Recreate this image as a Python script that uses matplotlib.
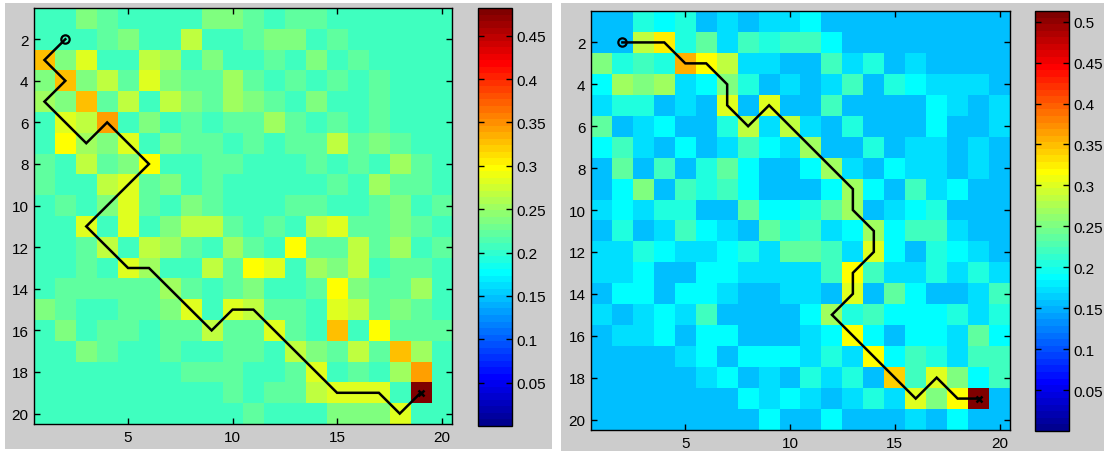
import numpy as np
import matplotlib
matplotlib.use("Agg")
import matplotlib.pyplot as plt
from matplotlib.colors import ListedColormap
from matplotlib.patches import Rectangle

# ---------------- data ----------------
# left panel cost map (rows 1..20, cols 1..20)
left_values = [
    [.207,.207,.237,.222,.207,.207,.207,.207,.237,.237,.222,.207,.222,.222,.207,.207,.207,.207,.207,.207],
    [.207,.207,.207,.222,.237,.207,.207,.267,.207,.207,.222,.237,.237,.207,.222,.207,.207,.207,.207,.207],
    [.325,.237,.283,.207,.207,.267,.252,.207,.237,.207,.207,.222,.207,.237,.207,.222,.207,.207,.207,.207],
    [.237,.325,.237,.267,.222,.283,.237,.222,.222,.252,.222,.207,.222,.207,.222,.207,.222,.207,.207,.207],
    [.252,.237,.325,.222,.267,.207,.267,.237,.222,.252,.237,.222,.207,.237,.207,.207,.222,.207,.207,.207],
    [.207,.283,.267,.343,.207,.237,.207,.222,.207,.222,.222,.252,.222,.207,.222,.207,.222,.207,.207,.207],
    [.207,.298,.252,.237,.283,.207,.237,.222,.222,.207,.222,.207,.222,.222,.267,.222,.237,.222,.207,.207],
    [.222,.207,.267,.222,.237,.298,.207,.207,.222,.222,.207,.207,.207,.222,.207,.222,.207,.252,.222,.207],
    [.222,.207,.207,.267,.283,.222,.237,.207,.222,.207,.207,.207,.207,.207,.222,.207,.252,.222,.222,.207],
    [.207,.222,.207,.237,.283,.222,.207,.237,.222,.207,.207,.207,.222,.222,.207,.207,.222,.237,.207,.222],
    [.207,.207,.283,.207,.283,.207,.237,.267,.267,.222,.207,.222,.207,.267,.283,.222,.222,.237,.222,.207],
    [.207,.207,.222,.267,.207,.267,.252,.222,.207,.252,.222,.207,.298,.222,.222,.267,.222,.252,.207,.222],
    [.207,.207,.222,.207,.283,.252,.207,.207,.267,.222,.298,.283,.207,.252,.237,.267,.207,.222,.222,.207],
    [.207,.222,.222,.222,.222,.222,.252,.222,.207,.222,.237,.207,.207,.222,.298,.237,.222,.222,.252,.207],
    [.237,.222,.207,.207,.222,.222,.237,.283,.207,.283,.267,.222,.222,.207,.283,.267,.222,.237,.222,.207],
    [.207,.237,.207,.222,.222,.207,.222,.222,.267,.222,.222,.283,.222,.207,.325,.207,.298,.222,.222,.222],
    [.207,.207,.237,.222,.207,.207,.222,.207,.207,.222,.222,.207,.267,.237,.222,.267,.222,.325,.252,.207],
    [.207,.207,.207,.207,.207,.207,.207,.222,.222,.222,.207,.207,.222,.283,.207,.222,.207,.252,.343,.207],
    [.207,.207,.207,.207,.207,.207,.207,.207,.207,.222,.207,.222,.222,.267,.283,.283,.283,.207,.482,.207],
    [.207,.207,.207,.207,.207,.207,.207,.207,.207,.207,.222,.207,.207,.207,.237,.237,.237,.283,.207,.207],
]
left_path_x = [2, 1, 2, 1, 3, 4, 6, 3, 5, 6, 9, 10, 11, 15, 17, 18, 19]
left_path_y = [2, 3, 4, 5, 7, 6, 8, 11, 13, 13, 16, 15, 15, 19, 19, 20, 19]
left_clim = (0.0, 0.482)
left_cbar_ticks = [0.05, 0.1, 0.15, 0.2, 0.25, 0.3, 0.35, 0.4, 0.45]
left_cbar_labels = ["0.05", "0.1", "0.15", "0.2", "0.25", "0.3", "0.35", "0.4", "0.45"]

# right panel cost map
right_values = [
    [.156,.156,.204,.188,.204,.156,.172,.156,.172,.172,.188,.156,.156,.156,.156,.156,.156,.156,.156,.156],
    [.156,.156,.284,.325,.204,.236,.172,.220,.204,.220,.220,.188,.156,.156,.156,.156,.156,.156,.156,.156],
    [.252,.204,.220,.204,.357,.316,.284,.172,.172,.156,.156,.220,.172,.204,.156,.172,.156,.156,.156,.156],
    [.188,.268,.252,.268,.172,.188,.252,.204,.156,.172,.156,.172,.220,.156,.204,.188,.172,.172,.172,.156],
    [.172,.204,.204,.156,.172,.156,.300,.156,.300,.156,.156,.220,.156,.156,.156,.156,.188,.172,.156,.172],
    [.236,.156,.172,.188,.156,.156,.204,.284,.172,.284,.172,.156,.204,.156,.156,.156,.188,.156,.156,.172],
    [.188,.220,.172,.156,.188,.156,.172,.220,.188,.172,.268,.156,.156,.204,.156,.172,.172,.156,.172,.156],
    [.156,.236,.156,.220,.156,.204,.236,.188,.156,.156,.188,.268,.172,.156,.188,.172,.172,.156,.172,.156],
    [.156,.188,.252,.156,.220,.204,.220,.188,.156,.156,.156,.188,.268,.188,.156,.220,.172,.188,.156,.156],
    [.172,.188,.172,.204,.204,.156,.156,.236,.188,.188,.204,.236,.268,.156,.172,.188,.204,.156,.156,.156],
    [.156,.204,.156,.172,.220,.188,.172,.156,.236,.204,.220,.172,.188,.268,.188,.220,.220,.172,.156,.156],
    [.172,.172,.204,.188,.172,.172,.188,.204,.172,.236,.236,.220,.172,.300,.188,.156,.204,.188,.172,.156],
    [.172,.172,.188,.156,.156,.188,.188,.172,.172,.172,.172,.220,.316,.220,.172,.172,.204,.172,.204,.172],
    [.156,.188,.188,.156,.188,.188,.172,.156,.156,.172,.172,.156,.300,.156,.236,.188,.156,.156,.172,.220],
    [.172,.156,.172,.188,.172,.220,.156,.156,.156,.156,.188,.268,.204,.220,.188,.188,.188,.204,.172,.204],
    [.156,.172,.172,.188,.156,.188,.188,.156,.156,.156,.172,.188,.316,.188,.156,.188,.188,.172,.236,.188],
    [.156,.156,.156,.156,.172,.188,.156,.188,.188,.188,.172,.204,.172,.316,.188,.220,.204,.172,.220,.220],
    [.156,.156,.156,.156,.156,.172,.188,.156,.172,.156,.204,.172,.204,.156,.340,.220,.300,.252,.188,.220],
    [.156,.156,.156,.156,.156,.156,.156,.188,.172,.188,.172,.156,.172,.204,.172,.300,.252,.316,.513,.156],
    [.156,.156,.156,.156,.156,.156,.156,.156,.188,.156,.156,.188,.156,.156,.156,.172,.156,.188,.156,.156],
]
right_path_x = [2, 4, 5, 6, 7, 7, 8, 9, 13, 13, 14, 14, 13, 13, 12, 16, 17, 18, 19]
right_path_y = [2, 2, 3, 3, 4, 5, 6, 5, 9, 10, 11, 12, 13, 14, 15, 19, 18, 19, 19]
right_clim = (0.0, 0.513)
right_cbar_ticks = [0.05, 0.1, 0.15, 0.2, 0.25, 0.3, 0.35, 0.4, 0.45, 0.5]
right_cbar_labels = ["0.05", "0.1", "0.15", "0.2", "0.25", "0.3", "0.35", "0.4", "0.45", "0.5"]

x_ticks = [5, 10, 15, 20]
y_ticks = [2, 4, 6, 8, 10, 12, 14, 16, 18, 20]

# ---------------- MATLAB jet(64) ----------------
def matlab_jet(m=64):
    n = int(np.ceil(m / 4))
    u = np.concatenate([np.arange(1, n + 1) / n, np.ones(n - 1), np.arange(n, 0, -1) / n])
    g = int(np.ceil(n / 2)) - (1 if m % 4 == 1 else 0) + np.arange(1, len(u) + 1)
    r = g + n
    b = g - n
    J = np.zeros((m, 3))
    rv = r[r <= m]
    J[rv - 1, 0] = u[:len(rv)]
    gv = g[g <= m]
    J[gv - 1, 1] = u[:len(gv)]
    bv = b[b >= 1]
    J[bv - 1, 2] = u[len(u) - len(bv):]
    return ListedColormap(J)

cmap = matlab_jet(64)

plt.rcParams['font.family'] = ['Liberation Sans', 'DejaVu Sans']
plt.rcParams['font.size'] = 11

W, H = 1104, 452
fig = plt.figure(figsize=(W / 100, H / 100), dpi=100, facecolor='white')

def box(x0, y0, x1, y1):
    return [x0 / W, 1 - y1 / H, (x1 - x0) / W, (y1 - y0) / H]

gray = '#cccccc'
fig.patches.append(Rectangle((5 / W, 1 - 450 / H), 547 / W, 446 / H, transform=fig.transFigure,
                             facecolor=gray, edgecolor='none', zorder=-10))
fig.patches.append(Rectangle((561 / W, 0), 543 / W, 448 / H, transform=fig.transFigure,
                             facecolor=gray, edgecolor='none', zorder=-10))

def panel(ax_box, cax_box, values, px, py, clim, cticks, clabels):
    ax = fig.add_axes(box(*ax_box))
    im = ax.imshow(np.array(values), cmap=cmap, vmin=clim[0], vmax=clim[1],
                   extent=(0.5, 20.5, 20.5, 0.5), aspect='auto', interpolation='nearest')
    ax.plot(px, py, color='black', lw=1.8, solid_joinstyle='miter')
    ax.plot(px[0], py[0], marker='o', ms=6, mfc='none', mec='black', mew=1.6)
    ax.plot(px[-1], py[-1], marker='x', ms=5, mec='black', mew=1.8)
    ax.set_xlim(0.5, 20.5)
    ax.set_ylim(20.5, 0.5)
    ax.set_xticks(x_ticks)
    ax.set_yticks(y_ticks)
    ax.tick_params(direction='in', length=4, width=1, top=True, right=True,
                   labelsize=11, colors='black', pad=4)
    for s in ax.spines.values():
        s.set_linewidth(1)
    cax = fig.add_axes(box(*cax_box))
    cb = fig.colorbar(im, cax=cax)
    cb.set_ticks(cticks)
    cb.set_ticklabels(clabels)
    cax.tick_params(direction='in', length=4, width=1, left=True, right=True,
                    labelsize=11, pad=3)
    cb.outline.set_linewidth(1)
    return ax, cax

panel((34, 9, 452, 425), (478, 9, 512, 427), left_values, left_path_x, left_path_y,
      left_clim, left_cbar_ticks, left_cbar_labels)
panel((591, 12, 1010, 431), (1035, 12, 1069, 432), right_values, right_path_x, right_path_y,
      right_clim, right_cbar_ticks, right_cbar_labels)

fig.savefig('out.png', dpi=100, facecolor='white')
